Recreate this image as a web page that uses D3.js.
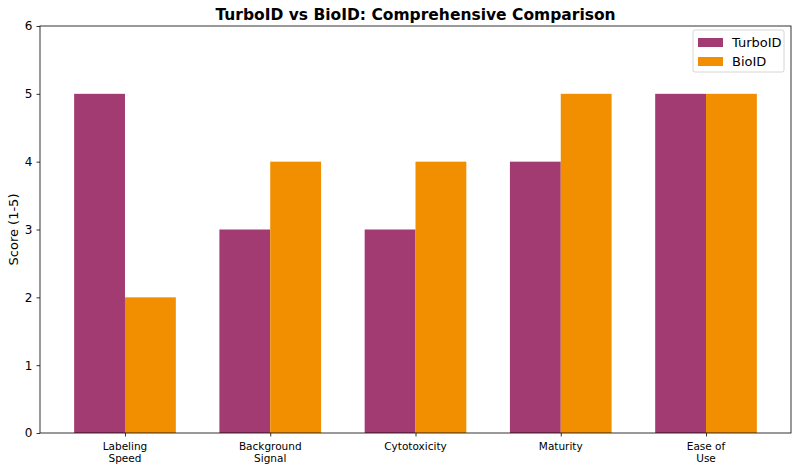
<!DOCTYPE html>
<html lang="en">
<head>
<meta charset="UTF-8">
<title>TurboID vs BioID</title>
<script src="https://d3js.org/d3.v7.min.js"></script>
<style>
    body { margin: 0; background: #fff; }
    svg text { font-family: "DejaVu Sans", sans-serif; fill: #000; }
</style>
</head>
<body>
<div id="chart"></div>
<script>
    // data
    const categories = [['Labeling', 'Speed'], ['Background', 'Signal'], ['Cytotoxicity'], ['Maturity'], ['Ease of', 'Use']];
    const turboScores = [5, 3, 3, 4, 5];
    const bioScores = [2, 4, 4, 5, 5];
    const seriesNames = ['TurboID', 'BioID'];
    const seriesColors = ['#A23B72', '#F18F01'];
    const yTicks = [0, 1, 2, 3, 4, 5, 6];

    const width = 799, height = 474;
    const margin = { left: 40, right: 8, top: 26, bottom: 41 };
    const barW = 0.35;

    const svg = d3.select('#chart').append('svg')
        .attr('width', width).attr('height', height);

    const x = d3.scaleLinear()
        .domain([-0.35 - 0.235, categories.length - 1 + 0.35 + 0.235])
        .range([margin.left, width - margin.right]);
    const y = d3.scaleLinear()
        .domain([0, 6])
        .range([height - margin.bottom, margin.top]);

    const series = [turboScores, bioScores];
    series.forEach((vals, s) => {
        svg.selectAll('.bar' + s)
            .data(vals)
            .join('rect')
            .attr('x', (d, i) => x(i + (s === 0 ? -barW : 0)))
            .attr('width', x(barW) - x(0))
            .attr('y', d => y(d))
            .attr('height', d => y(0) - y(d))
            .attr('fill', seriesColors[s]);
    });

    // frame
    svg.append('rect')
        .attr('x', margin.left).attr('y', margin.top)
        .attr('width', width - margin.left - margin.right)
        .attr('height', height - margin.top - margin.bottom)
        .attr('fill', 'none').attr('stroke', '#000').attr('stroke-width', 0.8);

    // y axis
    const yAxis = svg.append('g')
        .attr('transform', `translate(${margin.left},0)`)
        .call(d3.axisLeft(y).tickValues(yTicks).tickFormat(d3.format('d')).tickSize(3.5).tickPadding(4));
    yAxis.select('.domain').remove();
    yAxis.selectAll('text').style('font-size', '12px');
    yAxis.selectAll('line').attr('stroke-width', 0.8);

    // x axis
    const xAxis = svg.append('g')
        .attr('transform', `translate(0,${height - margin.bottom})`)
        .call(d3.axisBottom(x).tickValues(d3.range(categories.length)).tickSize(3.5).tickFormat(''));
    xAxis.select('.domain').remove();
    xAxis.selectAll('line').attr('stroke-width', 0.8);
    categories.forEach((lines, i) => {
        const t = svg.append('text')
            .attr('text-anchor', 'middle')
            .attr('x', x(i))
            .attr('y', height - margin.bottom + 17)
            .style('font-size', '10.5px');
        lines.forEach((ln, k) => {
            t.append('tspan').attr('x', x(i)).attr('dy', k === 0 ? 0 : 12.3).text(ln);
        });
    });

    // labels
    svg.append('text')
        .attr('x', (margin.left + width - margin.right) / 2)
        .attr('y', 20)
        .attr('text-anchor', 'middle')
        .style('font-size', '15.5px')
        .style('font-weight', 'bold')
        .text('TurboID vs BioID: Comprehensive Comparison');

    svg.append('text')
        .attr('transform', `translate(18,${(margin.top + height - margin.bottom) / 2}) rotate(-90)`)
        .attr('text-anchor', 'middle')
        .style('font-size', '13px')
        .text('Score (1-5)');

    // legend
    const lg = svg.append('g').attr('transform', 'translate(693,30)');
    lg.append('rect')
        .attr('width', 91).attr('height', 42).attr('rx', 2)
        .attr('fill', '#fff').attr('fill-opacity', 0.8)
        .attr('stroke', '#ccc').attr('stroke-width', 0.8);
    seriesNames.forEach((name, i) => {
        lg.append('rect')
            .attr('x', 5).attr('y', 8 + i * 19)
            .attr('width', 25).attr('height', 9)
            .attr('fill', seriesColors[i]);
        lg.append('text')
            .attr('x', 39).attr('y', 17 + i * 19)
            .style('font-size', '13px')
            .text(name);
    });
</script>
</body>
</html>
